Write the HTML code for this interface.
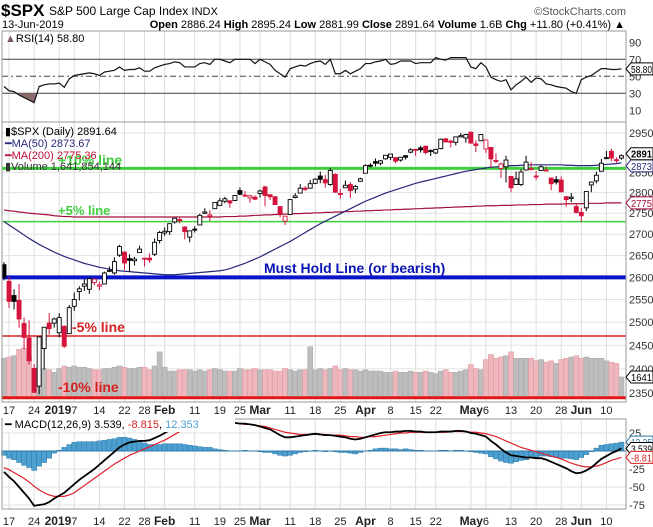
<!DOCTYPE html>
<html><head><meta charset="utf-8">
<style>
html,body{margin:0;padding:0;background:#fff;}
svg{display:block;font-family:"Liberation Sans",Arial,sans-serif;}
</style></head>
<body>
<svg id="chart" width="653" height="527" viewBox="0 0 653 527" xmlns="http://www.w3.org/2000/svg">
  <g>
    <text x="1" y="16" font-size="17" font-weight="bold" fill="#000">$SPX</text>
    <text x="49" y="15" font-size="12" fill="#000">S&amp;P 500 Large Cap Index <tspan font-size="11">INDX</tspan></text>
    <text x="626" y="15" font-size="11" fill="#555" text-anchor="end">©StockCharts.com</text>
    <text x="2" y="28" font-size="11" fill="#000">13-Jun-2019</text>
    <text x="625" y="28" font-size="11" fill="#000" text-anchor="end"><tspan font-weight="bold">Open</tspan> 2886.24 <tspan font-weight="bold">High</tspan> 2895.24 <tspan font-weight="bold">Low</tspan> 2881.99 <tspan font-weight="bold">Close</tspan> 2891.64 <tspan font-weight="bold">Volume</tspan> 1.6B <tspan font-weight="bold">Chg</tspan> +11.80 (+0.41%) ▲</text>
  </g>
  <g id="grid"></g>
  <g id="rsi"></g>
  <g id="main"></g>
  <g id="macd"></g>
  <g id="frames"></g>
</svg>
<script>
// ---------- DATA ----------
const opens  = [2629,2591,2559,2548,2497,2466,2401,2364,2443,2498,2498,2477,2491,2475,2535,2568,2580,2573,2588,2580,2585,2614,2610,2651,2658,2643,2638,2657,2644,2644,2653,2685,2703,2706,2729,2735,2717,2693,2712,2722,2750,2743,2761,2769,2779,2780,2781,2805,2792,2787,2789,2798,2814,2795,2790,2766,2731,2747,2788,2799,2811,2811,2823,2841,2832,2820,2845,2797,2812,2820,2809,2828,2848,2868,2877,2873,2884,2888,2887,2881,2892,2901,2908,2912,2916,2904,2899,2910,2935,2929,2926,2940,2937,2952,2922,2930,2909,2913,2880,2860,2864,2840,2820,2820,2856,2858,2841,2855,2856,2836,2832,2831,2790,2786,2766,2752,2763,2819,2829,2853,2886,2903,2882,2886];
const highs  = [2635,2601,2573,2585,2510,2504,2410,2468,2489,2520,2510,2520,2493,2538,2566,2580,2596,2598,2597,2590,2613,2625,2646,2675,2660,2653,2647,2673,2644,2655,2690,2708,2716,2724,2738,2739,2719,2708,2719,2749,2762,2757,2776,2787,2790,2782,2793,2813,2804,2795,2793,2808,2817,2794,2791,2767,2744,2784,2799,2821,2816,2831,2836,2852,2844,2861,2848,2809,2830,2826,2819,2837,2870,2873,2885,2881,2893,2896,2888,2889,2893,2911,2909,2917,2918,2908,2910,2936,2937,2933,2940,2950,2948,2954,2931,2947,2933,2914,2898,2875,2892,2840,2852,2858,2892,2876,2853,2868,2865,2836,2841,2840,2792,2799,2772,2763,2804,2827,2852,2884,2904,2910,2888,2895];
const lows   = [2593,2531,2528,2488,2441,2409,2351,2347,2398,2473,2488,2467,2444,2475,2525,2548,2569,2563,2582,2571,2585,2612,2606,2647,2617,2612,2627,2657,2625,2633,2649,2678,2696,2698,2725,2726,2688,2681,2704,2722,2748,2731,2760,2768,2774,2763,2780,2794,2789,2775,2782,2788,2767,2782,2770,2740,2722,2747,2786,2799,2804,2810,2821,2823,2812,2817,2800,2786,2812,2787,2799,2827,2848,2863,2865,2868,2882,2881,2873,2877,2882,2898,2891,2900,2895,2891,2896,2908,2926,2913,2918,2939,2925,2923,2901,2929,2899,2862,2873,2836,2825,2801,2820,2816,2856,2855,2831,2855,2852,2806,2820,2801,2766,2777,2750,2729,2755,2801,2823,2853,2885,2878,2874,2882];
const closes = [2600,2546,2546,2507,2467,2417,2351,2468,2489,2486,2507,2510,2448,2532,2550,2574,2585,2597,2596,2583,2610,2616,2636,2671,2633,2639,2642,2665,2644,2640,2681,2704,2707,2725,2738,2732,2706,2708,2710,2745,2753,2746,2776,2780,2785,2775,2793,2796,2794,2792,2784,2804,2793,2790,2771,2749,2743,2783,2792,2811,2808,2822,2833,2833,2824,2855,2801,2798,2818,2805,2815,2834,2867,2867,2873,2879,2893,2896,2878,2888,2888,2907,2906,2907,2900,2905,2908,2934,2927,2926,2940,2943,2946,2924,2918,2946,2932,2884,2879,2871,2881,2812,2834,2851,2876,2860,2840,2864,2856,2822,2826,2802,2783,2789,2752,2744,2803,2826,2843,2873,2887,2886,2880,2892];
const volumes = [3.1,3.2,3.3,3.8,3.9,3.2,2.3,2.4,2.3,2.2, 2.0,2.3,2.5,2.4,2.5,2.4,2.4,2.3,2.2,2.2, 2.3,2.3,2.4,2.5,2.4,2.3,2.3,2.4,2.4,2.2, 2.5,3.6,2.4,2.1,2.1,2.2,2.2,2.2,2.1,2.2, 2.1,2.2,2.3,2.2,2.1,2.1,2.1,2.3,2.2,2.2, 2.3,2.2,2.2,2.2,2.1,2.1,2.3,2.2,2.1,2.2, 2.2,4.0,2.2,2.3,2.2,2.3,2.5,2.2,2.3,2.2, 2.2,2.1,2.2,2.1,2.1,2.1,2.0,2.0,2.1,2.0, 2.0,2.1,2.0,2.0,2.1,2.0,1.9,2.1,2.2,2.0, 2.0,2.1,2.2,2.6,2.3,2.2,3.0,3.4,3.1,3.2, 3.3,3.6,3.1,3.1,3.1,3.1,2.9,3.0,2.8,2.9, 2.7,3.0,3.1,3.2,3.3,3.1,3.2,3.1,3.1,3.1, 2.9,2.8,2.7,1.64];
const ma50 = [2730,2722,2714,2706,2698,2690,2683,2676,2670,2664,2658,2653,2648,2644,2640,2636,2632,2629,2626,2623,2621,2619,2617,2615,2614,2613,2612,2611,2610,2609,2608,2607,2606,2606,2606,2607,2608,2609,2610,2611,2612,2613,2614,2615,2617,2620,2624,2628,2632,2637,2642,2647,2653,2659,2665,2671,2677,2683,2690,2697,2704,2711,2718,2725,2731,2737,2743,2749,2755,2761,2767,2773,2779,2784,2789,2794,2799,2803,2807,2811,2815,2819,2823,2826,2829,2832,2835,2838,2841,2844,2847,2850,2853,2855,2857,2859,2861,2863,2864,2865,2866,2867,2867,2868,2868,2869,2869,2869,2869,2869,2869,2869,2868,2868,2867,2867,2867,2867,2868,2869,2870,2871,2872,2874];
const ma200 = [2758,2756,2755,2753,2752,2750,2749,2748,2747,2746,2744,2743,2742,2742,2741,2741,2741,2741,2741,2741,2741,2741,2741,2741,2741,2741,2741,2741,2741,2741,2741,2741,2741,2741,2741,2741,2741,2741,2741,2741,2741,2741,2741,2741,2742,2742,2742,2743,2743,2744,2745,2745,2746,2746,2747,2747,2748,2748,2749,2749,2750,2750,2751,2751,2752,2752,2753,2753,2754,2754,2755,2755,2756,2756,2757,2757,2758,2758,2759,2759,2760,2760,2761,2761,2762,2762,2763,2763,2764,2764,2765,2765,2766,2766,2767,2767,2768,2768,2768,2769,2769,2769,2770,2770,2770,2771,2771,2771,2772,2772,2772,2772,2773,2773,2773,2773,2774,2774,2774,2774,2775,2775,2775,2775];
const rsiValues = [38,33,32,28,25,22,19,38,40,41,41,42,37,47,51,52,53,54,53,51,55,56,57,61,57,58,58,60,56,56,60,62,64,65,67,66,61,61,61,65,66,64,70,70,68,66,70,70,70,70,65,70,67,64,57,53,49,59,61,63,62,65,67,68,64,70,53,53,57,53,56,59,65,65,67,68,70,64,65,68,68,68,65,66,66,66,72,70,69,72,72,72,72,61,59,66,61,49,46,44,46,34,40,44,49,43,48,47,41,40,38,37,36,32,30,46,49,51,55,59,59,58,58,58.8];
const macdLine = [-29,-36,-42,-50,-58,-66,-76,-75,-74,-71,-66,-62,-58,-52,-46,-40,-35,-30,-25,-19,-13,-7,-1,5,9,12,13,14,14,15,18,21,25,29,33,37,39,41,42,43,44,45,44,43,42,40,39,38,38,37,36,34,32,30,26,22,19,19,20,21,22,23,24,23,22,22,21,20,19,17,16,17,19,21,23,25,26,26,27,27,28,28,27,27,26,26,26,27,27,27,28,28,27,25,24,22,20,14,9,3,-2,-6,-7,-8,-9,-9,-10,-10,-12,-15,-18,-21,-24,-28,-31,-30,-27,-23,-17,-11,-7,-3,0,3.539];
const signalLine = [-23,-26,-30,-34,-38,-43,-49,-54,-58,-61,-63,-63,-63,-61,-58,-53,-48,-43,-38,-33,-28,-23,-18,-14,-10,-6,-3,0,3,6,9,12,15,19,23,27,30,33,35,37,39,40,41,41,41,40,39,38,37,37,36,35,34,32,30,28,26,25,24,23,23,23,23,23,23,22,22,22,21,20,20,19,19,20,20,21,22,23,24,25,25,26,26,26,26,26,26,26,26,27,27,27,27,26,26,25,24,22,20,17,14,11,8,5,3,1,-1,-3,-5,-7,-9,-11,-14,-17,-19,-21,-22,-22,-21,-19,-16,-13,-11,-8.815];
const axisLabels = ['17','24','2019','7','14','22','28','Feb','11','19','25','Mar','11','18','25','Apr','8','15','22','May','6','13','20','28','Jun','10'];
const axisLabelIdx = [1,6,11,14,19,24,28,32,38,43,47,51,57,62,67,72,77,82,86,93,96,101,106,111,115,120];
const priceTicks = [2950,2850,2800,2750,2700,2650,2600,2550,2500,2450,2400,2350];
const rsiTicks = [90,70,50,30,10];
const macdTicks = [25,-25,-50,-75];

// ---------- SCALES ----------
const NS='http://www.w3.org/2000/svg';
const L=2, R=626;
const xOf = i => 4 + 5.02*i;
const yPrice = p => 133 + 1143*Math.log(2950/p);
const yRsi = v => 59.3 + (70-v)*0.85;
const yMacd = v => 451 - v*0.72;
const yVol = v => 398 - v*12.8;
const P = {rsi:[31,122], main:[122,402], macd:[419,509]};

function mk(tag, attrs, parent){const e=document.createElementNS(NS,tag);for(const k in attrs)e.setAttribute(k,attrs[k]);parent.appendChild(e);return e;}
const gGrid=document.getElementById('grid'), gRsi=document.getElementById('rsi'), gMain=document.getElementById('main'), gMacd=document.getElementById('macd'), gFr=document.getElementById('frames');

axisLabelIdx.forEach((i)=>{
  for(const k of ['rsi','main','macd']){
    const ln=mk('line',{x1:xOf(i),x2:xOf(i),y1:P[k][0],y2:P[k][1],stroke:'#dcdcdc','stroke-width':1},gGrid);
    
    
  }
});
priceTicks.forEach(p=>{
  const ln=mk('line',{x1:L,x2:R,y1:yPrice(p),y2:yPrice(p),stroke:'#e2e2e2','stroke-width':1},gGrid);
  
  
  const t=mk('text',{x:629,y:yPrice(p)+4,'font-size':11,fill:'#333'},gGrid);
  t.textContent=p;
  
  
});
rsiTicks.forEach(v=>{
  const t=mk('text',{x:629,y:yRsi(v)+4,'font-size':11,fill:'#333'},gGrid);
  t.textContent=v;
  
  
});
macdTicks.forEach(v=>{
  const ln=mk('line',{x1:L,x2:R,y1:yMacd(v),y2:yMacd(v),stroke:'#e2e2e2','stroke-width':1},gGrid);
  
  
  const t=mk('text',{x:629,y:yMacd(v)+4,'font-size':11,fill:'#333'},gGrid);
  t.textContent=v;
  
  
});
[[410],[521]].forEach(([yy])=>{
  axisLabels.forEach((lab,k)=>{
    const i=axisLabelIdx[k];
    const bold=/[A-Za-z]/.test(lab)||lab==='2019';
    let x=xOf(i), anchor='middle';
    if(lab==='2019'){x=xOf(14)-3;anchor='end';}
    if(lab==='May'){x=xOf(96)-3;anchor='end';}
    if(lab==='6'){x=xOf(96)-3;anchor='start';}
    const t=mk('text',{x:x,y:yy+4,'font-size':bold?12:11,'font-weight':bold?'bold':'normal',fill:'#222','text-anchor':anchor},gGrid);
    t.textContent=lab;
    
    
  });
});

// ---------- RSI ----------
[[70,'none'],[30,'none'],[50,'6,3,2,3']].forEach(([v,d])=>{
  const ln=mk('line',{x1:L,x2:R,y1:yRsi(v),y2:yRsi(v),stroke:'#444','stroke-width':1,'stroke-dasharray':d},gRsi);
  
  
});
let shade='';
for(let i=0;i<rsiValues.length;i++){ if(rsiValues[i]<30){ shade+=(shade?'L':'M')+xOf(i)+','+yRsi(rsiValues[i]); } }
if(shade){
  const first=rsiValues.findIndex(v=>v<30), last=first+rsiValues.slice(first).findIndex(v=>v>=30)-1;
  const sp=mk('path',{d:'M'+xOf(first-1)+','+yRsi(30)+shade.replace('M','L')+'L'+(xOf(last)+2)+','+yRsi(30)+'Z',fill:'#8b6a6e'},gRsi);
  
  
}
const rsiPath=mk('path',{d:rsiValues.map((v,i)=>(i?'L':'M')+xOf(i)+','+yRsi(v)).join(''),fill:'none',stroke:'#111','stroke-width':1.2},gRsi);



// ---------- MAIN ----------
volumes.forEach((v,i)=>{
  const down=i>0 && closes[i]<closes[i-1];
  const b=mk('rect',{x:xOf(i)-2.5,y:yVol(v),width:5,height:398-yVol(v),fill:down?'#eeb6bd':'#bdbdbd',stroke:down?'#e39aa4':'#a9a9a9','stroke-width':0.6},gMain);
  
  
});
function hline(p,color,w,name){const ln=mk('line',{x1:L,x2:R,y1:yPrice(p),y2:yPrice(p),stroke:color,'stroke-width':w},gMain);}
hline(2860,'#3ecf3e',3,'plus-10-percent-line');
hline(2730,'#3ecf3e',1.5,'plus-5-percent-line');
hline(2600,'#0a14c8',4,'must-hold-line');
hline(2470,'#d42020',1.5,'minus-5-percent-line');
hline(2340,'#e01818',3,'minus-10-percent-line');
const m200=mk('path',{d:ma200.map((v,i)=>(i?'L':'M')+xOf(i)+','+yPrice(v)).join(''),fill:'none',stroke:'#a3123a','stroke-width':1.2},gMain);


const m50=mk('path',{d:ma50.map((v,i)=>(i?'L':'M')+xOf(i)+','+yPrice(v)).join(''),fill:'none',stroke:'#28287a','stroke-width':1.2},gMain);


closes.forEach((c,i)=>{
  const o=opens[i], x=xOf(i);
  const red=i>0 && c<closes[i-1];
  const col=red?'#d4143c':'#000';
  const w=mk('line',{x1:x,x2:x,y1:yPrice(highs[i]),y2:yPrice(lows[i]),stroke:col,'stroke-width':1},gMain);
  
  
  const top=yPrice(Math.max(o,c)), bot=yPrice(Math.min(o,c));
  const b=mk('rect',{x:x-2,y:top,width:4,height:Math.max(1,bot-top),fill:c>=o?'#fff':col,stroke:col,'stroke-width':0.9},gMain);
  
  
});
function ann(x,y,txt,color,size,name){const t=mk('text',{x:x,y:y,'font-size':size,'font-weight':'bold',fill:color},gMain);t.textContent=txt;}
ann(58,165,'+10% line','#3ecf3e',14,'plus-10-label');
ann(58,215,'+5% line','#3ecf3e',13,'plus-5-label');
ann(264,273,'Must Hold Line (or bearish)','#0a14b4',14,'must-hold-label');
ann(72,332,'-5% line','#d42020',14,'minus-5-label');
ann(58,392,'-10% line','#d42020',14,'minus-10-label');

// ---------- MACD ----------
const hist=macdLine.map((m,i)=>m-signalLine[i]);
hist.forEach((h,i)=>{
  const y0=yMacd(0), y1=yMacd(h);
  const b=mk('rect',{x:xOf(i)-2.5,y:Math.min(y0,y1),width:5,height:Math.abs(y1-y0),fill:'#4d9fd0',stroke:'#2f7aaa','stroke-width':0.5},gMacd);
  
  
});
const zl=mk('line',{x1:L,x2:R,y1:yMacd(0),y2:yMacd(0),stroke:'#2f7aaa','stroke-width':1},gMacd);


const sl=mk('path',{d:signalLine.map((v,i)=>(i?'L':'M')+xOf(i)+','+yMacd(v)).join(''),fill:'none',stroke:'#e0202c','stroke-width':1.2},gMacd);


const ml=mk('path',{d:macdLine.map((v,i)=>(i?'L':'M')+xOf(i)+','+yMacd(v)).join(''),fill:'none',stroke:'#000','stroke-width':1.8},gMacd);



// ---------- FRAMES & LEGENDS ----------
for(const k of ['rsi','main','macd']){
  const r=mk('rect',{x:L,y:P[k][0],width:R-L,height:P[k][1]-P[k][0],fill:'none',stroke:'#9a9a9a','stroke-width':1},gFr);
  
  
}
function legend(x,y,html,name,bg){ if(bg){const r=mk('rect',{x:x-2,y:y-11,width:bg,height:15,fill:'#fff'},gFr);}
  const t=mk('text',{x:x,y:y,'font-size':11,fill:'#000'},gFr);t.innerHTML=html;}
legend(5,42,'<tspan fill="#7a5a5e">▲</tspan>RSI(14) 58.80','rsi-legend',0);
legend(5,135,'▮$SPX (Daily) 2891.64','price-legend',0);
legend(5,147,'<tspan fill="#28287a">━MA(50) 2873.67</tspan>','ma50-legend',0);
legend(5,159,'<tspan fill="#c0103a">━MA(200) 2775.36</tspan>','ma200-legend',0);
legend(5,170,'<tspan fill="#333">▮Volume 1,641,854,144</tspan>','volume-legend',0);
legend(5,428,'━ MACD(12,26,9) 3.539, <tspan fill="#d42020">-8.815</tspan>, <tspan fill="#4d9fd0">12.353</tspan>','macd-legend',232);

function tag(y,txt,color,bold,name){
  const p=mk('path',{d:`M626,${y} L631,${y-6} L653,${y-6} L653,${y+6} L631,${y+6} Z`,fill:'#fff',stroke:color,'stroke-width':1},gFr);
  
  
  const t=mk('text',{x:631,y:y+4,'font-size':bold?10.5:10,'font-weight':bold?'bold':'normal',fill:color,textLength:21,lengthAdjust:'spacingAndGlyphs'},gFr);
  t.textContent=txt;
  
  
}
tag(yPrice(ma50[ma50.length-1])+3,'2873','#28287a',false,'ma50-value-tag');
tag(yPrice(closes[closes.length-1])-2,'2891','#000',true,'price-value-tag');
tag(yRsi(rsiValues[rsiValues.length-1]),'58.80','#000',false,'rsi-value-tag');
tag(yPrice(ma200[ma200.length-1]),'2775','#a3123a',false,'ma200-value-tag');
tag(yVol(volumes[volumes.length-1]),'1641','#000',false,'volume-value-tag');
tag(yMacd(hist[hist.length-1]),'12.35','#2f7aaa',false,'histogram-value-tag');
tag(yMacd(macdLine[macdLine.length-1]),'3.539','#000',false,'macd-value-tag');
tag(yMacd(signalLine[signalLine.length-1]),'-8.81','#d42020',false,'signal-value-tag');
</script>
</body></html>
